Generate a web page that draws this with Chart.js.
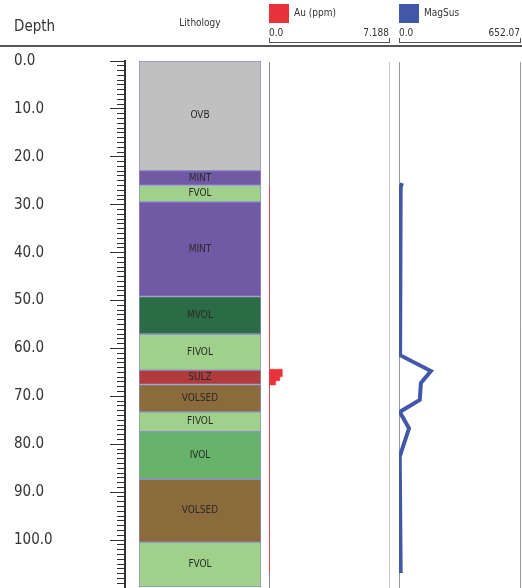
<!DOCTYPE html>
<html>
<head>
<meta charset="utf-8">
<title>Drill log</title>
<script src="https://cdn.jsdelivr.net/npm/chart.js@4.4.1/dist/chart.umd.min.js"></script>
<style>
  html, body { margin: 0; padding: 0; background: #fff; }
  #log { position: relative; width: 522px; height: 588px; overflow: hidden; }
  #log canvas { position: absolute; top: 0; }
  #rule { position: absolute; left: 0; top: 45px; width: 522px; height: 2px; background: #555; }
  #depthChart { left: 0; }
  #lithoChart { left: 130px; }
  #auChart { left: 255px; }
  #magChart { left: 385px; }
</style>
</head>
<body>
<div id="log">
  <div id="rule"></div>
  <canvas id="depthChart" width="130" height="600"></canvas>
  <canvas id="lithoChart" width="135" height="600"></canvas>
  <canvas id="auChart" width="140" height="600"></canvas>
  <canvas id="magChart" width="137" height="600"></canvas>
</div>
<script>
// depth ruler
const depthTicks = [0, 10, 20, 30, 40, 50, 60, 70, 80, 90, 100];
const depthTickLabels = ["0.0", "10.0", "20.0", "30.0", "40.0", "50.0", "60.0", "70.0", "80.0", "90.0", "100.0"];

// lithology intervals (m)
const lithoCodes = ["OVB", "MINT", "FVOL", "MINT", "MVOL", "FIVOL", "SULZ", "VOLSED", "FIVOL", "IVOL", "VOLSED", "FVOL"];
const lithoFrom = [0, 22.8, 25.9, 29.3, 49.0, 56.8, 64.3, 67.3, 73.0, 77.1, 87.0, 100.1];
const lithoTo = [22.8, 25.9, 29.3, 49.0, 56.8, 64.3, 67.3, 73.0, 77.1, 87.0, 100.1, 109.4];

// Au (ppm), value holds from each depth down to the next one
const auDepth = [26.0, 64.1, 65.7, 66.5, 67.4, 106.5];
const auValue = [0.03, 0.8, 0.65, 0.4, 0.03, 0.03];
const auRange = [0, 7.188];
const auRangeLabels = ["0.0", "7.188"];

// magnetic susceptibility
const magDepth = [25.4, 26.3, 61.2, 64.5, 67.0, 70.5, 73.0, 76.4, 82.3, 106.5];
const magValue = [16, 9, 6, 172, 118, 112, 4, 54, 4, 9];
const magRange = [0, 652.07];
const magRangeLabels = ["0.0", "652.07"];

const lithoColors = {
  OVB: "#c0c0c0",
  MINT: "#7159a5",
  FVOL: "#9fd18b",
  MVOL: "#2b6b45",
  FIVOL: "#9fd18b",
  SULZ: "#b03a3c",
  VOLSED: "#8b6b3b",
  IVOL: "#68b36c",
};

const FONT = '"DejaVu Sans Condensed", "Liberation Sans", sans-serif';
Chart.defaults.font.family = FONT;
Chart.defaults.color = "#333";
Chart.defaults.animation = false;
Chart.defaults.plugins.tooltip.enabled = false;

// vertical layout shared by every track
const pxPerM = 4.807;
const depthTop = 61;
const depthMax = 110;
const canvasH = 600;
const bottomPad = canvasH - (depthTop + depthMax * pxPerM);
const headerGap = 19; // px between the scale bracket and depth 0
const trackMin = -headerGap / pxPerM;

// Depth ruler
new Chart(document.getElementById("depthChart"), {
  type: "line",
  data: { datasets: [] },
  options: {
    responsive: false,
    layout: { padding: { left: 14, right: 5, top: 0, bottom: bottomPad } },
    plugins: {
      legend: { display: false },
      title: {
        display: true,
        text: "Depth",
        align: "start",
        color: "#333",
        font: { size: 15, weight: "normal" },
        padding: { top: 18, bottom: 25 },
      },
    },
    scales: {
      x: { type: "linear", display: false },
      y: {
        type: "linear",
        position: "left",
        min: 0,
        max: depthMax,
        reverse: true,
        afterFit: (scale) => {
          scale.width = 103;
        },
        ticks: {
          stepSize: 10,
          autoSkip: false,
          crossAlign: "far",
          font: { size: 15 },
          color: "#333",
          callback: (v) => {
            const k = depthTicks.indexOf(v);
            return k >= 0 ? depthTickLabels[k] : "";
          },
        },
        grid: { color: "#333", lineWidth: 1, tickLength: 7 },
        border: { display: false },
      },
      y2: {
        type: "linear",
        position: "right",
        min: 0,
        max: depthMax,
        reverse: true,
        ticks: { display: false, stepSize: 1 },
        grid: { color: "#333", lineWidth: 1, drawTicks: false },
        border: { display: true, color: "#333", width: 2 },
      },
    },
  },
});

// Lithology column
const barLabels = {
  id: "barLabels",
  afterDatasetsDraw(chart) {
    const ctx = chart.ctx;
    ctx.save();
    ctx.font = "10px " + FONT;
    ctx.fillStyle = "#2a2a2a";
    ctx.textAlign = "center";
    ctx.textBaseline = "middle";
    chart.data.datasets.forEach((ds, i) => {
      const bar = chart.getDatasetMeta(i).data[0];
      ctx.fillText(ds.label, bar.x, (bar.y + bar.base) / 2);
    });
    ctx.restore();
  },
};

new Chart(document.getElementById("lithoChart"), {
  type: "bar",
  data: {
    labels: ["Lithology"],
    datasets: lithoCodes.map((code, i) => ({
      label: code,
      data: [[lithoFrom[i], lithoTo[i]]],
      backgroundColor: lithoColors[code],
      borderColor: "#8e8ec9",
      borderWidth: 1,
      borderSkipped: false,
      barPercentage: 1,
      categoryPercentage: 1,
      grouped: false,
    })),
  },
  options: {
    responsive: false,
    layout: { padding: { left: 9, right: 4, top: 0, bottom: bottomPad } },
    plugins: {
      legend: { display: false },
      title: {
        display: true,
        text: "Lithology",
        color: "#333",
        font: { size: 10, weight: "normal" },
        padding: { top: 17, bottom: 32 },
      },
    },
    scales: {
      x: { display: false },
      y: { display: false, min: 0, max: depthMax, reverse: true },
    },
  },
  plugins: [barLabels],
});

// shared pieces for the two curve tracks
function trackLegend() {
  return {
    display: true,
    position: "top",
    align: "start",
    maxHeight: 24,
    labels: {
      boxWidth: 20,
      boxHeight: 19,
      padding: 0,
      color: "#333",
      font: { size: 10 },
      generateLabels: (chart) =>
        Chart.defaults.plugins.legend.labels
          .generateLabels(chart)
          .map((item) => ({ ...item, lineWidth: 0 })),
    },
  };
}

function trackScales(range, rangeLabels, lineColors) {
  return {
    x: {
      type: "linear",
      position: "top",
      min: range[0],
      max: range[1],
      afterBuildTicks: (scale) => {
        scale.ticks = range.map((v) => ({ value: v }));
      },
      ticks: {
        align: "inner",
        padding: -1,
        font: { size: 10 },
        color: "#333",
        callback: (v, i) => rangeLabels[i],
      },
      grid: {
        color: (c) => lineColors[c.index] || lineColors[0],
        tickColor: "#555",
        tickLength: 4,
        lineWidth: 1,
      },
      border: { display: true, color: "#555", width: 1, dash: [0, headerGap, 2000] },
    },
    y: {
      type: "linear",
      display: false,
      min: trackMin,
      max: depthMax,
      reverse: true,
    },
  };
}

// Au (ppm)
new Chart(document.getElementById("auChart"), {
  type: "line",
  data: {
    datasets: [
      {
        label: "Au (ppm)",
        data: auDepth.map((d, i) => ({ x: auValue[i], y: d })),
        stepped: "after",
        borderColor: "rgba(232, 51, 58, 0.45)",
        borderWidth: 1,
        backgroundColor: "#e8333a",
        fill: "origin",
        pointRadius: 0,
      },
    ],
  },
  options: {
    responsive: false,
    indexAxis: "y",
    layout: { padding: { left: 14, right: 6, top: 4, bottom: bottomPad } },
    plugins: { legend: trackLegend() },
    scales: trackScales(auRange, auRangeLabels, ["#8a8a8a", "#c4c4c4"]),
  },
});

// MagSus
new Chart(document.getElementById("magChart"), {
  type: "line",
  data: {
    datasets: [
      {
        label: "MagSus",
        data: magDepth.map((d, i) => ({ x: magValue[i], y: d })),
        borderColor: "#4257a8",
        backgroundColor: "#4257a8",
        borderWidth: 4,
        fill: false,
        tension: 0,
        pointRadius: 0,
      },
    ],
  },
  options: {
    responsive: false,
    indexAxis: "y",
    layout: { padding: { left: 14, right: 2, top: 4, bottom: bottomPad } },
    plugins: { legend: trackLegend() },
    scales: trackScales(magRange, magRangeLabels, ["#9a9a9a", "#9a9a9a"]),
  },
});
</script>
</body>
</html>
